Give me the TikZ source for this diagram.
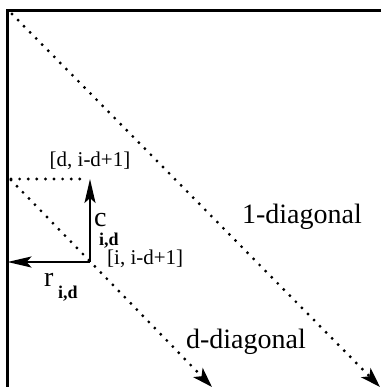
\documentclass[tikz,border=0pt]{standalone}
\usepackage{fontspec}
\setmainfont{Liberation Serif}
\usetikzlibrary{arrows.meta}

\begin{document}
\begin{tikzpicture}[x=1pt,y=-1pt,
  frame/.style={line width=2.4pt},
  diag/.style={line width=3.2pt,dash pattern=on 0pt off 8.6pt,line cap=round},
  vec/.style={line width=2.2pt,-{Stealth[length=24pt,width=11pt,inset=5pt]}},
  tipped/.style={-{Stealth[length=20pt,width=13pt,inset=5pt]}},
  big/.style={font=\fontsize{28}{30}\selectfont,inner sep=0pt},
  small/.style={font=\fontsize{21}{23}\selectfont,inner sep=0pt},
  sub/.style={font=\fontsize{18}{18}\selectfont\bfseries,inner sep=0pt},
  >=Stealth
]
  \useasboundingbox (0,0) rectangle (381,387);

  % matrix frame (only top and left sides visible)
  \coordinate (corner) at (7.5,10.5);
  \draw[frame] (381,10.5) -- (corner) -- (7.5,387);

  % the two diagonals
  \coordinate (onestart) at (12,14);
  \coordinate (oneend)   at (380,387);
  \coordinate (dstart)   at (11,180);
  \coordinate (dend)     at (212,387);
  \draw[diag,tipped] (onestart) -- (oneend);
  \draw[diag,tipped] (dstart) -- (dend);

  % cell [i,i-d+1] and its row / column runs
  \coordinate (cell) at (90,262);
  \coordinate (top)  at (90,179);
  \coordinate (edge) at (7.5,262);
  \draw[diag] (11,179) -- (86,179);
  \draw[vec] (cell) -- (top);
  \draw[vec] (cell) -- (edge);

  % labels
  \node[small,anchor=base] (dlab) at (90,167) {[d, i-d+1]};
  \node[small,anchor=base west] (ilab) at (107,264) {[i, i-d+1]};
  \node[big,anchor=base west] (cchar) at (94,226) {c};
  \node[sub,anchor=base west] (csub) at (99,245) {i,d};
  \node[big,anchor=base west] (rchar) at (44,286) {r};
  \node[sub,anchor=base west] (rsub) at (58,298) {i,d};
  \node[big,anchor=base] (onelab) at (302,223) {1-diagonal};
  \node[big,anchor=base] (dlabel) at (246,348) {d-diagonal};
\end{tikzpicture}
\end{document}
